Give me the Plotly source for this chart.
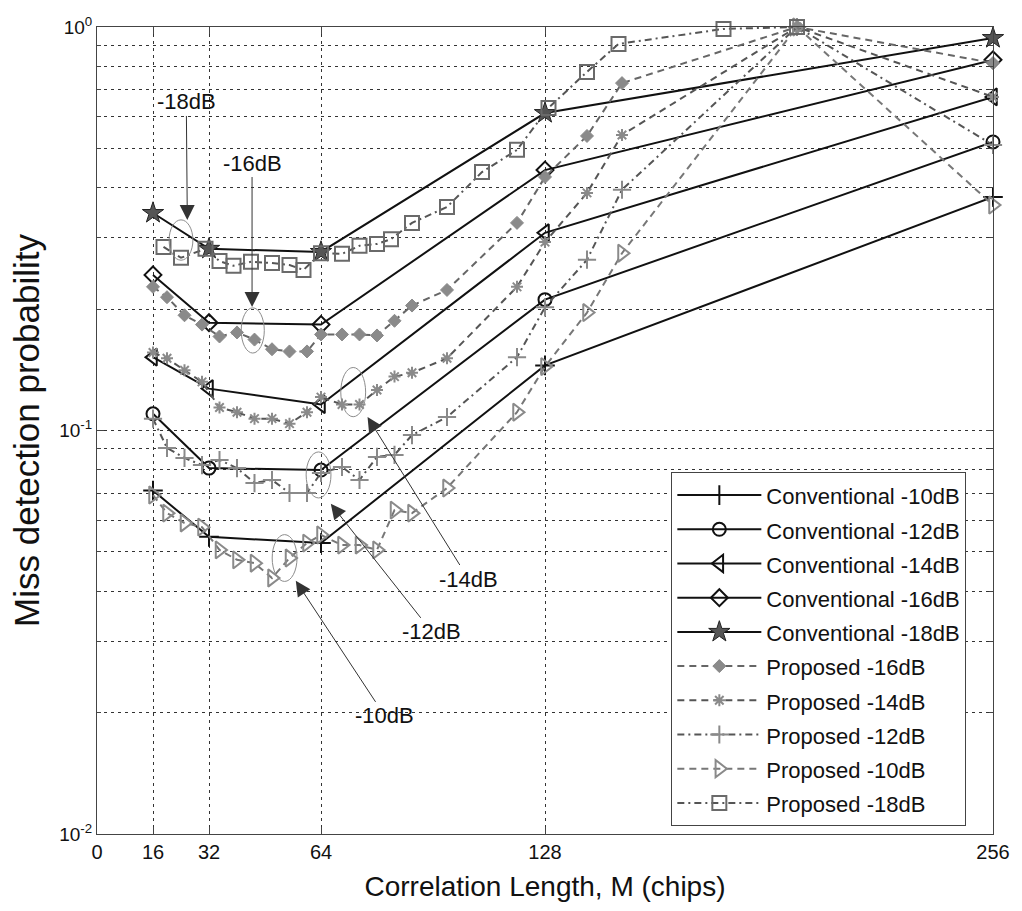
import math
import plotly.graph_objects as go

# ---- data -------------------------------------------------------------
# correlation length M (chips) for the conventional detector
m_conv = [16, 32, 64, 128, 256]
conv_10 = [0.071, 0.0545, 0.0526, 0.145, 0.379]
conv_12 = [0.110, 0.0807, 0.0798, 0.211, 0.519]
conv_14 = [0.152, 0.127, 0.116, 0.309, 0.671]
conv_16 = [0.243, 0.185, 0.183, 0.442, 0.829]
conv_18 = [0.346, 0.282, 0.277, 0.612, 0.939]

# correlation lengths for the proposed detector
m_prop = [16, 20, 25, 30, 35, 40, 45, 50, 55, 60, 64, 70, 75, 80, 85, 90,
          100, 120, 128, 140, 150, 200, 256]
prop_16 = [0.227, 0.214, 0.193, 0.183, 0.171, 0.175, 0.168, 0.159, 0.157,
           0.157, 0.173, 0.173, 0.173, 0.172, 0.187, 0.204, 0.223, 0.327,
           0.425, 0.537, 0.726, 1.0, 0.814]
prop_14 = [0.156, 0.151, 0.141, 0.132, 0.114, 0.111, 0.107, 0.107, 0.104,
           0.111, 0.121, 0.116, 0.116, 0.126, 0.136, 0.139, 0.151, 0.227,
           0.293, 0.388, 0.540, 1.0, 0.671]
prop_12 = [0.107, 0.0905, 0.0855, 0.0821, 0.0845, 0.0807, 0.0741, 0.0754,
           0.0700, 0.0700, 0.0785, 0.0812, 0.0754, 0.0860, 0.0870, 0.0974,
           0.108, 0.152, 0.202, 0.265, 0.395, 1.0, 0.510]
prop_10 = [0.0692, 0.0624, 0.0590, 0.0576, 0.0506, 0.0478, 0.0469, 0.0431,
           0.0483, 0.0526, 0.0551, 0.0520, 0.0520, 0.0506, 0.0635, 0.0624,
           0.0720, 0.111, 0.144, 0.196, 0.275, 1.0, 0.362]
m_prop_18 = [19, 24, 31, 35, 39, 44, 50, 55, 59, 64, 70, 75, 80, 84, 90,
             100, 110, 120, 129, 140, 149, 179, 200]
prop_18 = [0.285, 0.268, 0.282, 0.263, 0.256, 0.262, 0.260, 0.257, 0.250,
           0.275, 0.274, 0.287, 0.290, 0.298, 0.327, 0.358, 0.437, 0.496,
           0.630, 0.774, 0.908, 0.989, 1.0]

x_ticks = [0, 16, 32, 64, 128, 256]
y_ticks = [0.01, 0.1, 1]
y_ticktext = ["10<sup>-2</sup>", "10<sup>-1</sup>", "10<sup>0</sup>"]

FONT = "Liberation Sans, Arial, Helvetica, sans-serif"
BLACK = "#111111"
GREY = "#8a8a8a"


def legend_label(text):
    # entry text is drawn a little smaller than the legend font so rows stay airy
    return f"<span style='font-size:22px'>{text}</span>"


fig = go.Figure()

# ---- conventional detector (solid black) ------------------------------
conv_series = [
    ("Conventional -10dB", conv_10, dict(symbol="cross-thin-open", size=14,
                                         color=BLACK, line=dict(width=2, color=BLACK))),
    ("Conventional -12dB", conv_12, dict(symbol="circle-open", size=13,
                                         color=BLACK, line=dict(width=2, color=BLACK))),
    ("Conventional -14dB", conv_14, dict(symbol="triangle-left-open", size=15,
                                         color=BLACK, line=dict(width=2, color=BLACK))),
    ("Conventional -16dB", conv_16, dict(symbol="diamond-open", size=13,
                                         color=BLACK, line=dict(width=2, color=BLACK))),
    ("Conventional -18dB", conv_18, dict(symbol="star", size=16,
                                         color="#555555", line=dict(width=1, color="#222222"))),
]
for name, vals, mk in conv_series:
    fig.add_trace(go.Scatter(
        x=m_conv, y=vals, name=legend_label(name), mode="lines+markers",
        line=dict(color=BLACK, width=2), marker=mk, cliponaxis=False,
    ))

# ---- proposed detector (dashed grey) ----------------------------------
DASH = "7px,5px"
DASHDOT = "7px,4px,2px,4px"
prop_series = [
    ("Proposed -16dB", m_prop, prop_16, "#666666", DASH,
     dict(symbol="diamond", size=10, color=GREY, line=dict(width=1, color=GREY))),
    ("Proposed -14dB", m_prop, prop_14, "#555555", DASH,
     dict(symbol="asterisk-open", size=10, color=GREY, line=dict(width=2, color=GREY))),
    ("Proposed -12dB", m_prop, prop_12, "#555555", DASHDOT,
     dict(symbol="cross-thin-open", size=13, color=GREY, line=dict(width=2, color=GREY))),
    ("Proposed -10dB", m_prop, prop_10, "#777777", DASH,
     dict(symbol="triangle-right-open", size=15, color=GREY, line=dict(width=2, color=GREY))),
    ("Proposed -18dB", m_prop_18, prop_18, "#555555", DASHDOT,
     dict(symbol="square-open", size=14, color="#6a6a6a", line=dict(width=2, color="#6a6a6a"))),
]
for name, xs, vals, lc, dash, mk in prop_series:
    fig.add_trace(go.Scatter(
        x=xs, y=vals, name=legend_label(name), mode="lines+markers",
        line=dict(color=lc, width=2, dash=dash), marker=mk, cliponaxis=False,
    ))

# ---- SNR call-outs: ellipse around a curve section plus an arrow ------
callouts = [
    # label, arrow tip (M, value), text offset (px), ellipse centre (M, value), half sizes
    ("-18dB", (25.8, 0.3325), (-1, -118), (24.0, 0.2965), (3.4, 0.050)),
    ("-16dB", (44.3, 0.2023), (0, -144), (44.5, 0.1770), (3.3, 0.056)),
    ("-14dB", (77.3, 0.1080), (101, 162), (73.2, 0.1245), (3.55, 0.061)),
    ("-12dB", (66.8, 0.0658), (101, 128), (63.3, 0.0776), (3.55, 0.057)),
    ("-10dB", (56.8, 0.0424), (89, 135), (53.6, 0.0483), (3.55, 0.058)),
]
for label, (tx, tv), (ax, ay), (cx, cv), (dx, dy) in callouts:
    fig.add_annotation(
        x=tx, y=math.log10(tv), xref="x", yref="y", ax=ax, ay=ay,
        text=label, showarrow=True, arrowhead=2, arrowsize=3,
        arrowwidth=1, arrowcolor="#333333", standoff=0,
        font=dict(family=FONT, size=22, color=BLACK),
    )
    fig.add_shape(
        type="circle", xref="x", yref="y",
        x0=cx - dx, x1=cx + dx, y0=cv / 10 ** dy, y1=cv * 10 ** dy,
        line=dict(color="#8c8c8c", width=1),
    )

grid = dict(gridcolor="#333333", gridwidth=1, griddash="3px,4px")

fig.update_xaxes(
    range=[0, 256], tickvals=x_ticks, ticktext=[str(v) for v in x_ticks],
    showgrid=True, **grid, zeroline=False,
    showline=True, linecolor="#444444", linewidth=1, mirror="ticks",
    ticks="inside", ticklen=7, tickcolor="#444444",
    tickfont=dict(family=FONT, size=20, color=BLACK),
    title=dict(text="Correlation Length, M (chips)", standoff=14,
               font=dict(family=FONT, size=28, color=BLACK)),
)
fig.update_yaxes(
    type="log", range=[-2, 0], tickvals=y_ticks, ticktext=y_ticktext,
    showgrid=True, **grid, zeroline=False,
    showline=True, linecolor="#444444", linewidth=1, mirror="ticks",
    ticks="inside", ticklen=7, tickcolor="#444444",
    tickfont=dict(family=FONT, size=19, color=BLACK),
    minor=dict(tickvals=[k * 0.01 for k in range(2, 10)] + [k * 0.1 for k in range(2, 10)],
               ticks="inside", ticklen=4, tickcolor="#444444",
               showgrid=True, **grid),
    title=dict(text="Miss detection probability", standoff=8,
               font=dict(family=FONT, size=35, color=BLACK)),
)

fig.update_layout(
    width=1022, height=911,
    margin=dict(l=97, r=24, t=27, b=77),
    plot_bgcolor="white", paper_bgcolor="white",
    font=dict(family=FONT, color=BLACK),
    showlegend=True,
    legend=dict(
        x=0.641, y=0.4486, xanchor="left", yanchor="top",
        bgcolor="white", bordercolor="#444444", borderwidth=1,
        font=dict(family=FONT, size=24, color=BLACK),
        itemwidth=84, tracegroupgap=0, traceorder="normal",
    ),
)

fig.write_html("out.html")
